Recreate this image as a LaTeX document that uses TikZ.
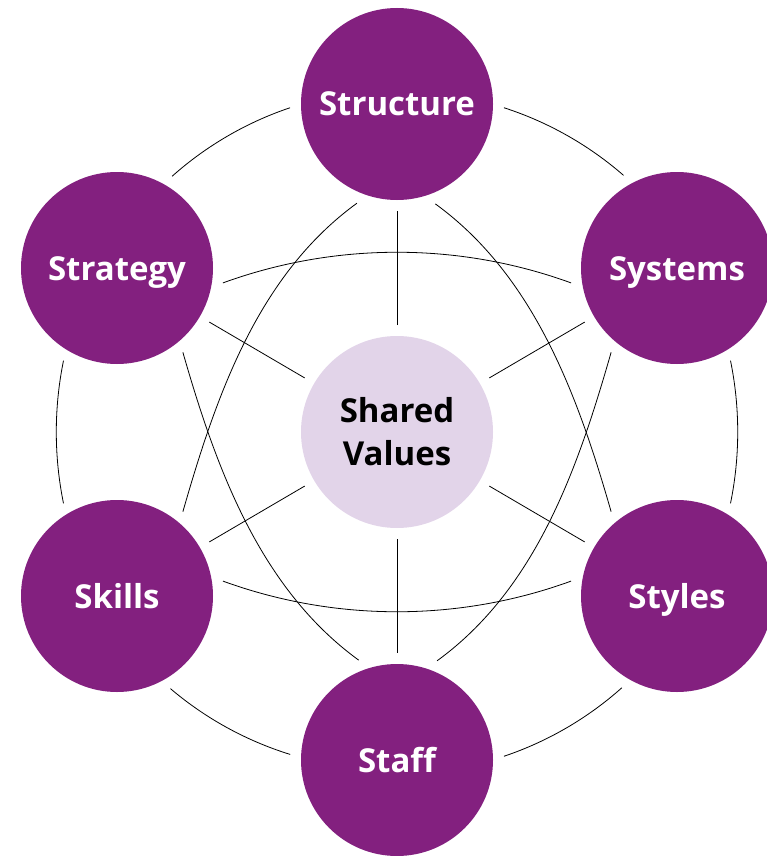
\documentclass[tikz,border=0pt]{standalone}
\usepackage{fontspec}
\setmainfont{Open Sans}
\pgfdeclarelayer{background}
\pgfsetlayers{background,main}
\definecolor{sevenS}{HTML}{83207F}
\definecolor{core}{HTML}{E2D4E9}
\begin{document}
\begin{tikzpicture}[x=1pt,y=1pt,
  sbub/.style={circle, fill=sevenS, text=white, minimum size=192pt, inner sep=0pt,
    outer sep=11pt, text height=24pt, text depth=0pt,
    font=\fontsize{33}{40}\selectfont\bfseries},
  cbub/.style={circle, fill=core, text=black, minimum size=192pt, inner sep=0pt,
    outer sep=11pt, align=center, font=\fontsize{33}{43}\selectfont\bfseries},
  link/.style={draw=black, line width=0.8pt},
  cross/.style={link, looseness=0.88},
  ring/.style={link, bend right=11.6, looseness=0.86}]
\clip (0,0) rectangle (767,-856);
\useasboundingbox (0,0) rectangle (767,-856);

\node[cbub] (sv)  at (397,-432) {Shared\\Values};
\node[sbub] (str) at (397,-104) {Structure};
\node[sbub] (stg) at (117,-268) {Strategy};
\node[sbub] (sys) at (677,-268) {Systems};
\node[sbub] (skl) at (117,-596) {Skills};
\node[sbub] (sty) at (677,-596) {Styles};
\node[sbub] (stf) at (397,-760) {Staff};

\begin{pgfonlayer}{background}
  % outer ring
  \draw[ring] (str.182.2) to (stg.59.2);
  \draw[ring] (stg.240) to (skl.120);
  \draw[ring] (skl.300.8) to (stf.177.8);
  \draw[ring] (stf.2.2) to (sty.239.2);
  \draw[ring] (sty.60) to (sys.300);
  \draw[ring] (sys.120.8) to (str.-2.2);
  % spokes
  \foreach \n in {str,stg,sys,skl,sty,stf}
    \draw[link] (sv) -- (\n);
  % cross curves
  \draw[cross] (stg.-8) to[out=20,in=160] (sys.188);
  \draw[cross] (skl.8) to[out=-20,in=-160] (sty.172);
  \draw[cross] (str.248.5) to[out=216,in=74] (skl.52);
  \draw[cross] (str.291.5) to[out=-36,in=106] (sty.128);
  \draw[cross] (stg.-52) to[out=-74,in=144] (stf.111.5);
  \draw[cross] (sys.232) to[out=254,in=36] (stf.68.5);
\end{pgfonlayer}
\end{tikzpicture}
\end{document}
